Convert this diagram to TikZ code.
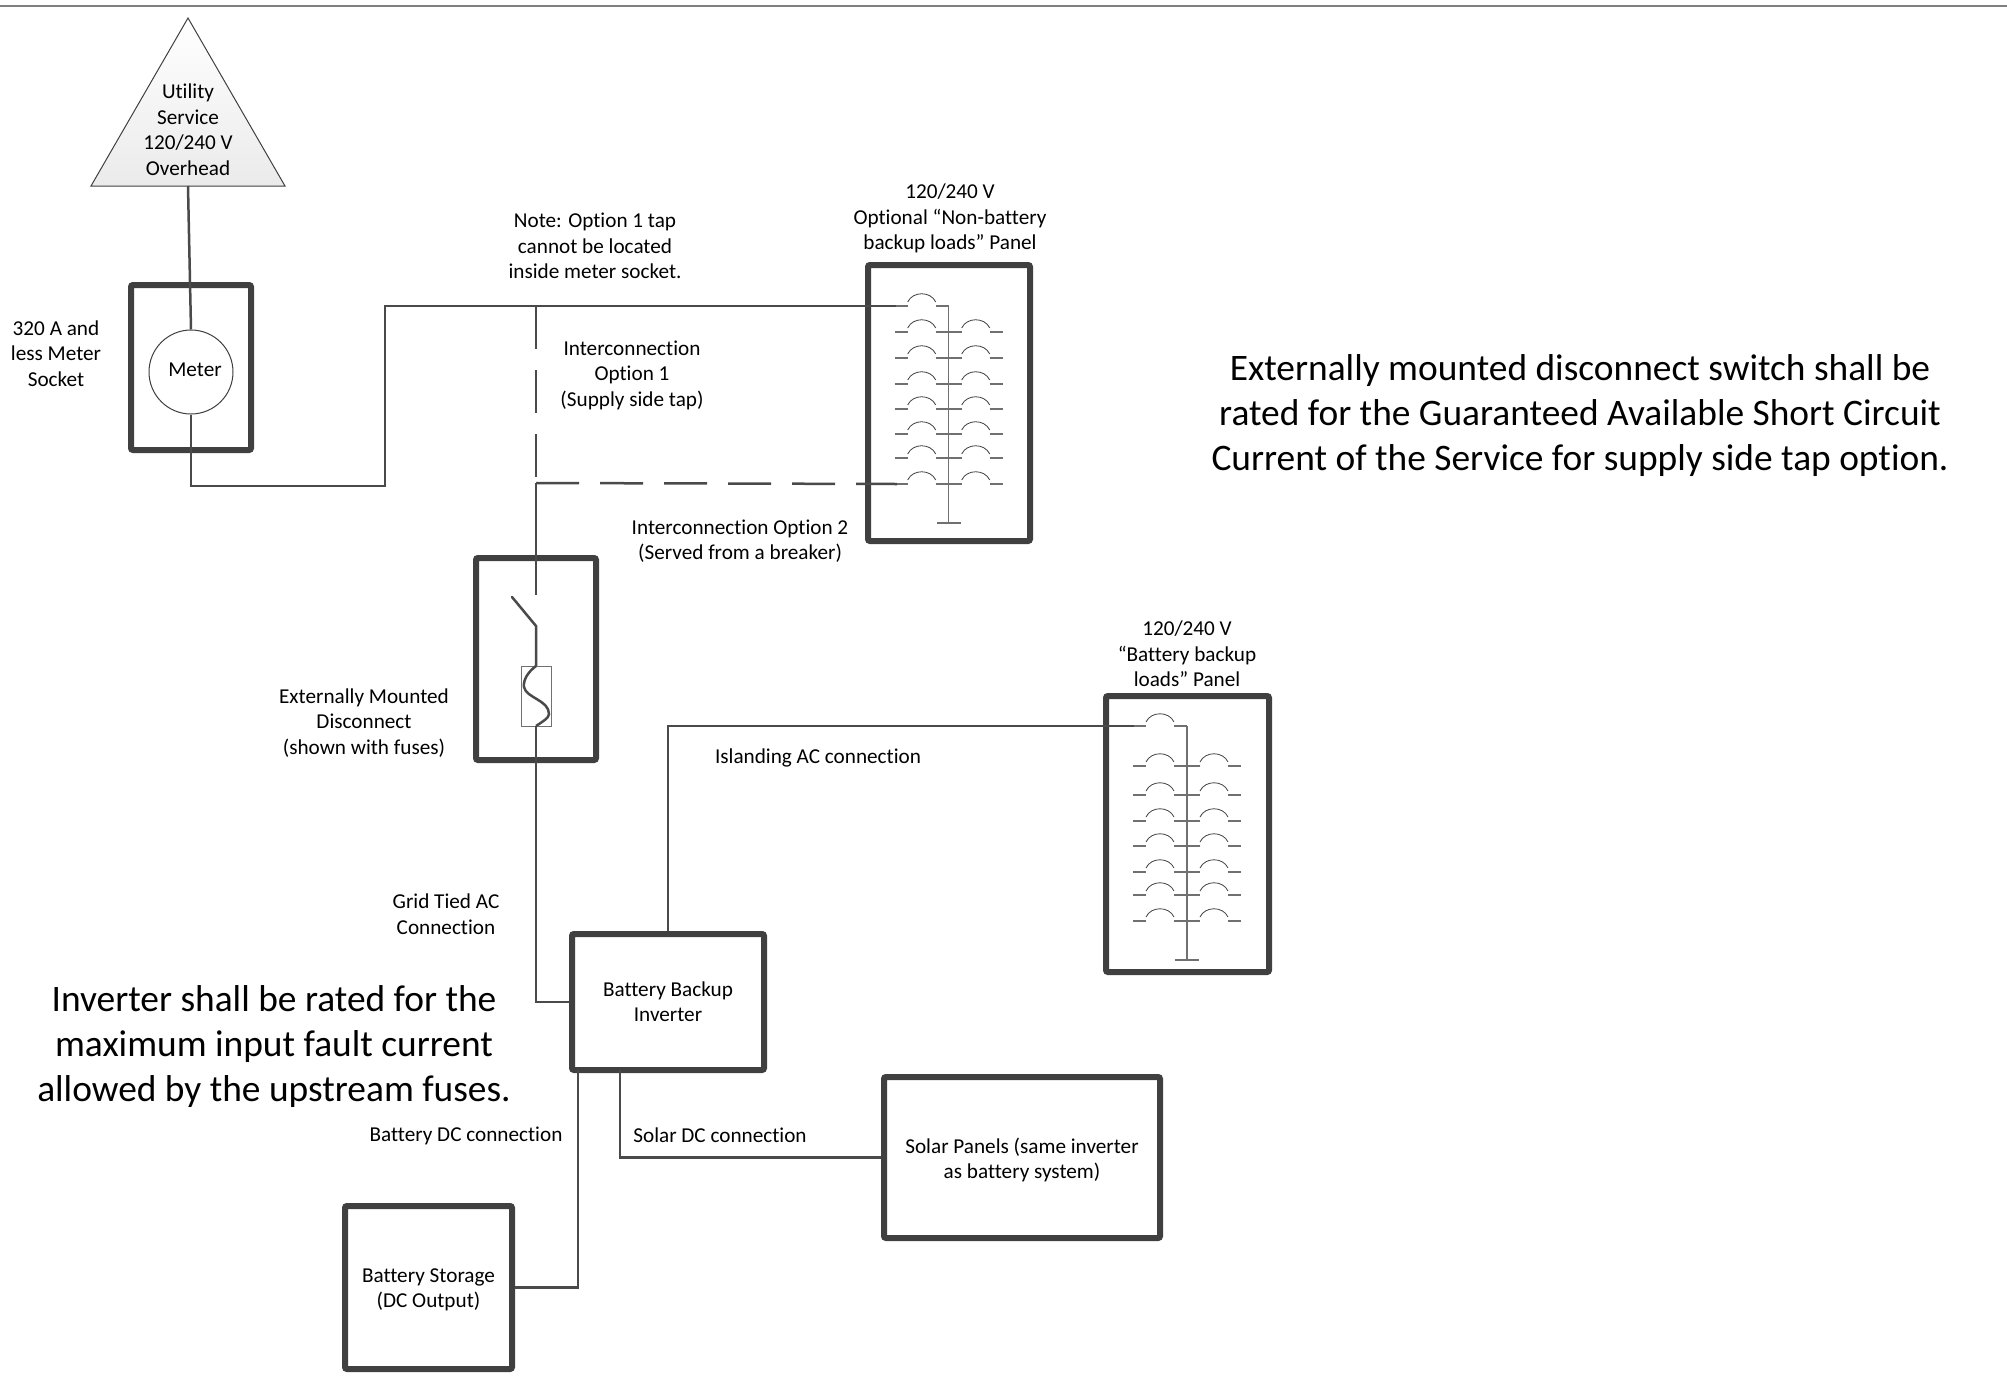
\documentclass[tikz,border=0pt]{standalone}
\usepackage{fontspec}
\setmainfont{Carlito}[Ligatures=NoCommon]
\definecolor{dk}{HTML}{404040}
\definecolor{wirec}{HTML}{4A4A4A}
\definecolor{stub}{HTML}{707070}
\tikzset{
  hvybox/.style={draw=dk,line width=3pt,rounded corners=1pt,fill=none,inner sep=0pt,align=center,font=\smalltxt},
  wire/.style={draw=wirec,line width=1.25pt},
  thinl/.style={draw=stub,line width=0.5pt},
  arcl/.style={draw=dk,line width=0.4pt},
  smalltext/.style={inner sep=0pt,align=center,font=\smalltxt},
  bigtext/.style={inner sep=0pt,align=center,font=\bigtxt},
  dashwire/.style={wire,dash pattern=on 21.5pt off 10.5pt}
}
\newcommand{\smalltxt}{\fontsize{10.6}{12.75}\selectfont}
\newcommand{\bigtxt}{\fontsize{18.7}{22.4}\selectfont}
% #1 bus x, #2 row y
\newcommand{\brkL}[2]{%
  \draw[stub,line width=0.6pt] (#1-54,#2) -- (#1-41,#2) (#1-13,#2) -- (#1,#2);
  \draw[arcl] (#1-41,#2-4) .. controls (#1-36,#2-15) and (#1-18,#2-15) .. (#1-13,#2-4);}
\newcommand{\brkR}[2]{%
  \draw[stub,line width=0.6pt] (#1,#2) -- (#1+13,#2) (#1+41,#2) -- (#1+54,#2);
  \draw[arcl] (#1+13,#2-4) .. controls (#1+18,#2-15) and (#1+36,#2-15) .. (#1+41,#2-4);}
\begin{document}
\begin{tikzpicture}[x=0.5pt,y=-0.5pt]
\useasboundingbox (0,0) rectangle (2007,1397);
\fill[white] (0,0) rectangle (2007,1397);
\draw[draw=gray,line width=1pt] (0,5.5) -- (2007,5.5);

% --- utility triangle
\coordinate (uapex) at (188,18);
\coordinate (ubl) at (91,186);
\coordinate (ubr) at (285,186);
\coordinate (ubase) at (188,186);
\path[draw=dk,line width=0.5pt,top color=white,bottom color=black!8] (uapex) -- (ubr) -- (ubl) -- cycle;
\node[smalltext] (utillabel) at (188,129.5) {Utility\\Service\\120/240 V\\Overhead};

% --- boxes
\node[hvybox,minimum width=60pt,minimum height=82.5pt] (meterbox) at (191,367.5) {};
\node[draw=dk,line width=0.5pt,circle,minimum size=42pt,inner sep=0pt] (meter) at (191,372) {};
\node[smalltext] (meterlabel) at (195,370) {Meter};
\node[hvybox,minimum width=81pt,minimum height=138pt] (panelA) at (949,403) {};
\node[hvybox,minimum width=81.5pt,minimum height=138pt] (panelB) at (1187.5,834) {};
\node[hvybox,minimum width=60pt,minimum height=101pt] (disc) at (536,659) {};
\node[hvybox,minimum width=96pt,minimum height=68pt] (inv) at (668,1002) {};
\node[smalltext] (invl) at (668,1001.5) {Battery Backup\\Inverter};
\node[hvybox,minimum width=83.5pt,minimum height=81.5pt] (batt) at (428.5,1287.5) {};
\node[smalltext] (battl) at (428.5,1290) {Battery Storage\\(DC Output)};
\node[hvybox,minimum width=138pt,minimum height=80.5pt] (solar) at (1022,1157.5) {};
\node[smalltext] (solarl) at (1022,1160) {Solar Panels (same inverter\\as battery system)};

% --- breakers panel A
\draw[stub,line width=0.7pt] (948.7,306) -- (948.7,523) (937,523) -- (961,523);
\brkL{948.7}{306}
\foreach \r in {332,358,384,409,434,458,484}{\brkL{948.7}{\r}\brkR{948.7}{\r}}
% --- breakers panel B
\draw[stub,line width=0.7pt] (1187,726) -- (1187,960) (1175,960) -- (1199,960);
\brkL{1187}{726}
\foreach \r in {766,795,821,846,872,895,921}{\brkL{1187}{\r}\brkR{1187}{\r}}

% --- connection points
\coordinate (corner1) at (385,486);
\coordinate (corner2) at (385,306);
\coordinate (tapA) at (536,306);
\coordinate (tapB) at (536,483);
\coordinate (feedA) at (896,306);
\coordinate (feedAb) at (897,484);
\coordinate (swfix) at (536,595);
\coordinate (swend) at (512,597);
\coordinate (swpivot) at (536,626);
\coordinate (fusetop) at (536,666);
\coordinate (fusebot) at (536,726);
\coordinate (invtop) at (668,931);
\coordinate (feedB) at (1134,726);
\coordinate (invbatt) at (578,1070);
\coordinate (invsolar) at (620,1070);

% --- connectors
\draw[wire] (ubase) -- (meter.north);
\draw[wire] (meter.south) |- (corner1) -- (corner2) -- (feedA);
\draw[dashwire] (tapA) -- (tapB);
\draw[dashwire] (tapB) -- (feedAb);
\draw[wire] (tapB) -- (swfix);
\draw[wire,line cap=round] (swend) -- (swpivot) -- (fusetop);
\node[draw=stub,line width=0.5pt,minimum width=15pt,minimum height=30pt,inner sep=0pt] (fuse) at (536,696) {};
\draw[wire] (fusetop) .. controls (528,672) and (523,680) .. (524,687)
  .. controls (526,698) and (549,700) .. (549,714) .. controls (549,718) and (542,722) .. (fusebot);
\draw[wire] (fusebot) |- (inv.west);
\draw[wire] (invtop) |- (feedB);
\draw[wire] (invbatt) |- (batt.east);
\draw[wire] (invsolar) |- (solar.west);

% --- labels
\node[smalltext] (socketl) at (56,353.5) {320 A and\\less Meter\\Socket};
\node[smalltext] (notel) at (595,246) {Note: Option 1 tap\\cannot be located\\inside meter socket.};
\node[smalltext] (panelAl) at (950,218.5) {120/240 V\\Optional “Non-battery\\backup loads” Panel};
\node[smalltext] (opt1l) at (632,375) {Interconnection\\Option 1\\(Supply side tap)};
\node[smalltext] (opt2l) at (740,541) {Interconnection Option 2\\(Served from a breaker)};
\node[smalltext] (discl) at (364,723) {Externally Mounted\\Disconnect\\(shown with fuses)};
\node[smalltext] (panelBl) at (1187,654) {120/240 V\\“Battery backup\\loads” Panel};
\node[smalltext] (islandl) at (818,757.5) {Islanding AC connection};
\node[smalltext] (gridl) at (446,914) {Grid Tied AC\\Connection};
\node[smalltext] (battdcl) at (466,1135.5) {Battery DC connection};
\node[smalltext] (solardcl) at (720,1135.5) {Solar DC connection};
\node[bigtext] (noteR) at (1580,415.5) {Externally mounted disconnect switch shall be\\rated for the Guaranteed Available Short Circuit\\Current of the Service for supply side tap option.};
\node[bigtext] (noteL) at (274,1046.5) {Inverter shall be rated for the\\maximum input fault current\\allowed by the upstream fuses.};
\end{tikzpicture}
\end{document}
